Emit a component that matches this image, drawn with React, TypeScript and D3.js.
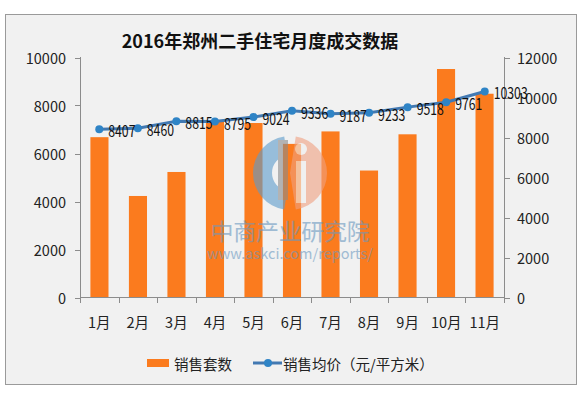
import React from 'react';
import * as d3 from 'd3';

const months = ['1月', '2月', '3月', '4月', '5月', '6月', '7月', '8月', '9月', '10月', '11月'];
const salesCount = [6680, 4230, 5230, 7320, 7270, 6400, 6920, 5290, 6800, 9520, 8490];
const avgPrice = [8407, 8460, 8815, 8795, 9024, 9336, 9187, 9233, 9518, 9761, 10303];
const leftTicks = [0, 2000, 4000, 6000, 8000, 10000];
const rightTicks = [0, 2000, 4000, 6000, 8000, 10000, 12000];

const W = 582;
const H = 397;
const FONT = '"Noto Sans CJK SC", "Noto Sans", sans-serif';

const App: React.FC = () => {
  const x = d3.scaleBand<string>().domain(months).range([80, 504]).paddingInner(0.53).paddingOuter(0.27);
  const xStep = d3.scaleBand<string>().domain(months).range([80, 504]);
  const yL = d3.scaleLinear().domain([0, 10000]).range([297.5, 57.5]);
  const yR = d3.scaleLinear().domain([0, 12000]).range([297.5, 57.5]);
  const mid = (i: number) => (xStep(months[i]) as number) + xStep.bandwidth() / 2;

  const line = d3.line<number>()
    .x((_, i) => mid(i))
    .y((d) => yR(d));

  // watermark logo
  const cx = 290;
  const cy = 173;
  const blueArc = d3.arc()({ innerRadius: 18, outerRadius: 37, startAngle: -Math.PI * 0.05, endAngle: -Math.PI * 0.95 }) as string;
  const orangeArc = d3.arc()({ innerRadius: 0, outerRadius: 37, startAngle: Math.PI * 0.05, endAngle: Math.PI * 0.95 }) as string;

  return (
    <svg width={W} height={H} style={{ position: 'absolute', left: 0, top: 0 }} fontFamily={FONT}>
      <rect x={0} y={0} width={W} height={H} fill="#fff" />
      <rect x={5.5} y={14.5} width={571} height={370} fill="#f1f1f1" stroke="#9a9a9a" strokeWidth={1} />

      <text x={260} y={48} textAnchor="middle" fontSize={18} fontWeight="bold" fill="#111">
        2016年郑州二手住宅月度成交数据
      </text>

      {/* bars */}
      {months.map((m, i) => (
        <rect key={m} x={x(m)} y={yL(salesCount[i])} width={x.bandwidth()} height={yL(0) - yL(salesCount[i])} fill="#fb7b1e" />
      ))}

      {/* watermark */}
      <g opacity={0.6}>
        <path d={blueArc} transform={`translate(${cx},${cy})`} fill="#5c9ccc" />
        <path d={orangeArc} transform={`translate(${cx},${cy})`} fill="#f0a080" />
        <rect x={cx - 12} y={cy - 33} width={10} height={60} fill="#8a8a8a" />
        <rect x={cx + 6} y={cy - 12} width={10} height={42} fill="#f0f0f0" />
        <circle cx={cx + 11} cy={cy - 24} r={6} fill="#f0f0f0" />
        <text x={290} y={240} textAnchor="middle" fontSize={23} fill="#6a98c0" letterSpacing={-0.3}>中商产业研究院</text>
        <text x={290} y={259} textAnchor="middle" fontSize={14.5} fill="#6a98c0">www.askci.com/reports/</text>
      </g>

      {/* axes */}
      <g stroke="#8c8c8c" strokeWidth={1} fill="none">
        <line x1={80.5} y1={57} x2={80.5} y2={298} />
        <line x1={504.5} y1={57} x2={504.5} y2={298} />
        <line x1={80} y1={297.5} x2={505} y2={297.5} />
        {leftTicks.map((t) => (
          <line key={'l' + t} x1={75} x2={80} y1={Math.round(yL(t)) + 0.5} y2={Math.round(yL(t)) + 0.5} />
        ))}
        {rightTicks.map((t) => (
          <line key={'r' + t} x1={505} x2={510} y1={Math.round(yR(t)) + 0.5} y2={Math.round(yR(t)) + 0.5} />
        ))}
        {months.map((m) => (
          <line key={'t' + m} x1={Math.round(xStep(m) as number) + 0.5} x2={Math.round(xStep(m) as number) + 0.5} y1={297} y2={303} />
        ))}
        <line x1={504.5} x2={504.5} y1={297} y2={303} />
      </g>

      <g fontSize={14.5} fill="#222">
        {leftTicks.map((t) => (
          <text key={'lt' + t} x={66} y={yL(t)} textAnchor="end" dominantBaseline="central">{t}</text>
        ))}
        {rightTicks.map((t) => (
          <text key={'rt' + t} x={517} y={yR(t)} textAnchor="start" dominantBaseline="central">{t}</text>
        ))}
        {months.map((m, i) => (
          <text key={'xl' + m} x={mid(i)} y={321} textAnchor="middle" dominantBaseline="central">{m}</text>
        ))}
      </g>

      {/* price line */}
      <path d={line(avgPrice) as string} fill="none" stroke="#4279b2" strokeWidth={3} />
      {avgPrice.map((v, i) => (
        <circle key={'p' + i} cx={mid(i)} cy={yR(v)} r={4} fill="#2f84c6" />
      ))}
      {avgPrice.map((v, i) => {
        const s = String(v);
        return (
          <text key={'pl' + i} x={mid(i) + 9} y={yR(v) + 1}
            dominantBaseline="central" fontSize={16} fill="#111" textLength={s.length * 6.8} lengthAdjust="spacingAndGlyphs">
            {s}
          </text>
        );
      })}

      {/* legend */}
      <rect x={147} y={359} width={22} height={8} fill="#fb7b1e" />
      <text x={174} y={363} dominantBaseline="central" fontSize={14.5} fill="#222">销售套数</text>
      <line x1={253} x2={282} y1={363} y2={363} stroke="#4279b2" strokeWidth={3} />
      <circle cx={268} cy={363} r={4} fill="#2f84c6" />
      <text x={283} y={363} dominantBaseline="central" fontSize={14.5} fill="#222">销售均价（元/平方米）</text>
    </svg>
  );
};

export default App;
